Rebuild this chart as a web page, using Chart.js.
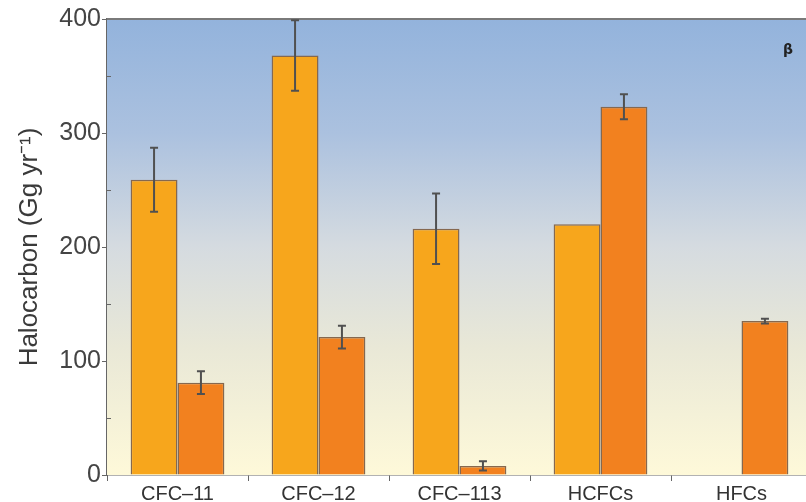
<!DOCTYPE html>
<html>
<head>
<meta charset="utf-8">
<script src="https://cdn.jsdelivr.net/npm/chart.js@4.4.0/dist/chart.umd.min.js"></script>
<style>
  html, body { margin: 0; padding: 0; background: #fff; overflow: hidden; }
  #wrap { width: 806px; height: 502px; overflow: hidden; }
</style>
</head>
<body>
<div id="wrap"><canvas id="grafico" width="812" height="502"></canvas></div>
<script>
var categorias = ['CFC\u201311', 'CFC\u201312', 'CFC\u2013113', 'HCFCs', 'HFCs'];
var valoresA = [259, 368, 216, 220, null];
var errosA = [28, 31, 31, 0, 0];
var valoresB = [81, 121, 8, 323, 135];
var errosB = [10, 10, 4, 11, 2];
var ticksY = [0, 100, 200, 300, 400];
var ticksMenores = [50, 150, 250, 350];

var corA = '#f7a61c';
var corB = '#f2811f';
var corBorda = '#85684f';
var corEixo = '#666666';

const fundo = {
    id: 'fundo',
    beforeDatasetsDraw(chart) {
        const { ctx, chartArea } = chart;
        const g = ctx.createLinearGradient(0, chartArea.top, 0, chartArea.bottom);
        g.addColorStop(0, '#93b3dc');
        g.addColorStop(0.25, '#abc1df');
        g.addColorStop(0.5, '#d5dbe0');
        g.addColorStop(0.72, '#e9e8d7');
        g.addColorStop(1, '#fef9d9');
        ctx.save();
        ctx.fillStyle = g;
        ctx.fillRect(chartArea.left, chartArea.top, chartArea.right - chartArea.left, chartArea.bottom - chartArea.top);
        ctx.strokeStyle = '#7a7a7a';
        ctx.lineWidth = 2;
        ctx.beginPath();
        ctx.moveTo(chartArea.left, chartArea.top);
        ctx.lineTo(chartArea.right, chartArea.top);
        ctx.stroke();
        // ticks menores
        const y = chart.scales.y;
        ctx.strokeStyle = corEixo;
        ctx.lineWidth = 1;
        ticksMenores.forEach((v) => {
            const py = Math.round(y.getPixelForValue(v)) + 0.5;
            ctx.beginPath();
            ctx.moveTo(chartArea.left, py);
            ctx.lineTo(chartArea.left + 4, py);
            ctx.stroke();
        });
        ctx.restore();
    }
};

const barrasErro = {
    id: 'barrasErro',
    afterDatasetsDraw(chart) {
        const { ctx } = chart;
        const y = chart.scales.y;
        const erros = [errosA, errosB];
        ctx.save();
        ctx.strokeStyle = '#505050';
        ctx.lineWidth = 2;
        chart.data.datasets.forEach((ds, d) => {
            const meta = chart.getDatasetMeta(d);
            ds.data.forEach((v, i) => {
                const e = erros[d][i];
                if (v == null || !e) return;
                const x = meta.data[i].x;
                const y1 = y.getPixelForValue(v + e);
                const y2 = y.getPixelForValue(v - e);
                ctx.beginPath();
                ctx.moveTo(x, y1);
                ctx.lineTo(x, y2);
                ctx.moveTo(x - 4, y1);
                ctx.lineTo(x + 4, y1);
                ctx.moveTo(x - 4, y2);
                ctx.lineTo(x + 4, y2);
                ctx.stroke();
            });
        });
        ctx.fillStyle = '#222';
        ctx.font = 'bold 14px "DejaVu Sans"';
        ctx.fillText('\u03b2', 783, 54);
        ctx.restore();
    }
};

let ctx = document.getElementById('grafico').getContext('2d');
let chart = new Chart(ctx, {
    type: 'bar',
    data: {
        labels: categorias,
        datasets: [{
            label: 'A',
            data: valoresA,
            backgroundColor: corA,
            borderColor: corBorda,
            borderWidth: 1.5
        }, {
            label: 'B',
            data: valoresB,
            backgroundColor: corB,
            borderColor: corBorda,
            borderWidth: 1.5
        }]
    },
    options: {
        responsive: false,
        animation: false,
        layout: { padding: { top: 19, left: 0, right: 0, bottom: 0 } },
        plugins: {
            legend: { display: false },
            tooltip: { enabled: false }
        },
        datasets: {
            bar: { barPercentage: 1, categoryPercentage: 0.665 }
        },
        scales: {
            x: {
                afterFit: (s) => { s.height = 27; },
                grid: { display: true, drawOnChartArea: false, offset: true, tickLength: 6, tickColor: corEixo },
                border: { color: corEixo, width: 1.5 },
                ticks: {
                    color: '#333',
                    padding: 1,
                    maxRotation: 0,
                    font: { family: '"Liberation Sans", Arial, sans-serif', size: 20 }
                }
            },
            y: {
                min: 0,
                max: 400,
                afterFit: (s) => { s.width = 107; },
                afterBuildTicks: (s) => { s.ticks = ticksY.map((v) => ({ value: v })); },
                grid: { display: true, drawOnChartArea: false, tickLength: 5, tickColor: corEixo },
                border: { color: corEixo, width: 2 },
                ticks: {
                    color: '#444',
                    padding: 1,
                    font: { family: '"Liberation Sans", Arial, sans-serif', size: 25 }
                },
                title: {
                    display: true,
                    text: 'Halocarbon (Gg yr\u207b\u00b9)',
                    color: '#3a3a3a',
                    padding: { top: 14, bottom: 0 },
                    font: { family: '"Liberation Sans", Arial, sans-serif', size: 26 }
                }
            }
        }
    },
    plugins: [fundo, barrasErro]
});
</script>
</body>
</html>
